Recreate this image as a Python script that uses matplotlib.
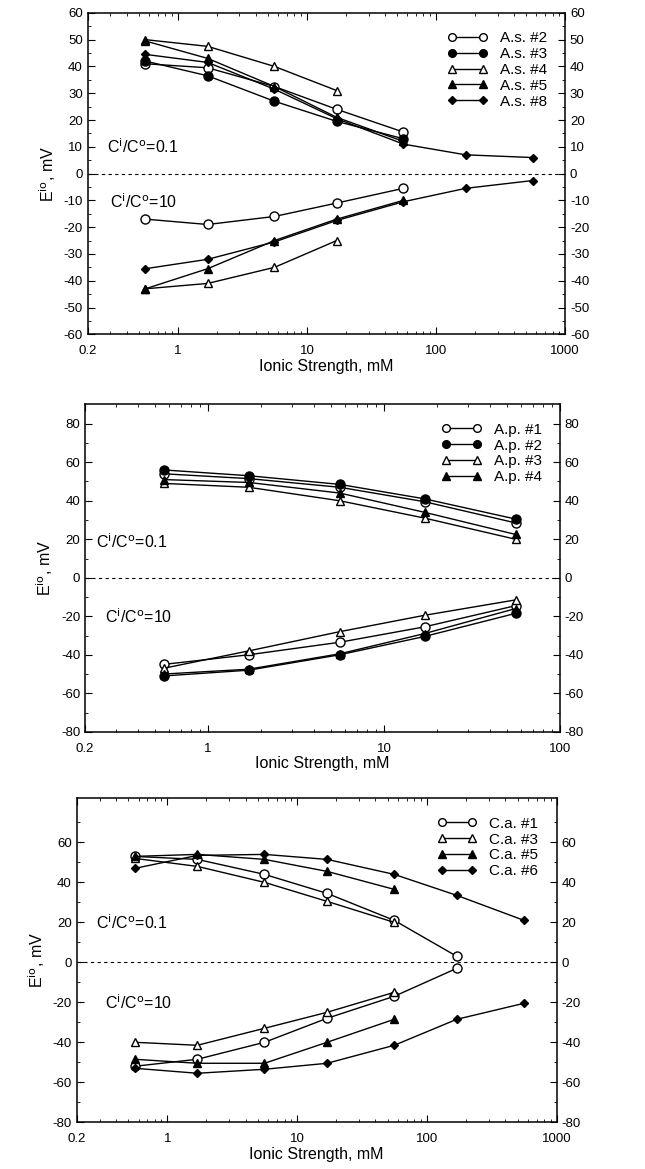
import numpy as np
import matplotlib
matplotlib.use('Agg')
import matplotlib.pyplot as plt
from matplotlib.ticker import FixedLocator, NullFormatter, LogLocator

plt.rcParams['font.family'] = ['Liberation Sans', 'DejaVu Sans']
plt.rcParams['axes.unicode_minus'] = False

# ionic strength, mM
ionic = [0.56, 1.7, 5.6, 17, 56, 170, 560]

# panel 1: A.s.
as_labels = ['A.s. #2', 'A.s. #3', 'A.s. #4', 'A.s. #5', 'A.s. #8']
as_up = [
    [41, 39.5, 32.5, 24, 15.5],
    [42, 36.5, 27, 19.5, 13],
    [50, 47.5, 40, 31],
    [49.5, 43, 32.5, 21, 12],
    [44.5, 41.5, 31.5, 20.5, 11, 7, 6],
]
as_low = [
    [-17, -19, -16, -11, -5.5],
    None,
    [-43, -41, -35, -25],
    [-43, -35.5, -25, -17, -10],
    [-35.5, -32, -25.5, -17.5, -10.5, -5.5, -2.6],
]

# panel 2: A.p.
ap_labels = ['A.p. #1', 'A.p. #2', 'A.p. #3', 'A.p. #4']
ap_up = [
    [54, 51.5, 47, 39.5, 28.5],
    [56, 53, 48.5, 41, 30.5],
    [49, 47, 40, 31, 20],
    [51, 49.5, 44, 34, 22.5],
]
ap_low = [
    [-45, -40, -33.5, -25.5, -14.5],
    [-51, -48, -40, -30.5, -18.5],
    [-47, -38, -28, -19.5, -11.5],
    [-50, -47.5, -39.5, -29, -16],
]

# panel 3: C.a.
ca_labels = ['C.a. #1', 'C.a. #3', 'C.a. #5', 'C.a. #6']
ca_up = [
    [53, 51.5, 44, 34.5, 21, 3],
    [52, 48, 40, 30.5, 20],
    [53, 54, 51.5, 45.5, 36.5],
    [47, 53.5, 54, 51.5, 44, 33.5, 21],
]
ca_low = [
    [-52, -48.5, -40, -28, -17, -3],
    [-40, -41.5, -33, -25, -15],
    [-48.5, -50.5, -50.5, -40, -28.5],
    [-53, -55.5, -53.5, -50.5, -41.5, -28.5, -20.5],
]

styles_as = [('o', 'white'), ('o', 'black'), ('^', 'white'), ('^', 'black'), ('D', 'black')]
styles_ap = [('o', 'white'), ('o', 'black'), ('^', 'white'), ('^', 'black')]
styles_ca = [('o', 'white'), ('^', 'white'), ('^', 'black'), ('D', 'black')]


def draw(ax, labels, up, low, styles, xmax, ylim, yticks, txt_up, txt_low):
    for i, lab in enumerate(labels):
        m, fc = styles[i]
        ms = {'o': 6.5, '^': 6, 'D': 4.5}[m]
        kw = dict(marker=m, mfc=fc, mec='black', ms=ms, color='black', lw=1, mew=1)
        if up[i] is not None:
            ax.plot(ionic[:len(up[i])], up[i], label=lab, **kw)
        if low[i] is not None:
            ax.plot(ionic[:len(low[i])], low[i], **kw)
    ax.axhline(0, color='black', ls=(0, (3, 3)), lw=0.8)
    ax.set_xscale('log')
    ax.set_xlim(0.2, xmax)
    ax.set_ylim(*ylim)
    xt = [0.2, 1, 10, 100, 1000]
    xt = [t for t in xt if t <= xmax]
    ax.xaxis.set_major_locator(FixedLocator(xt))
    ax.set_xticklabels([str(t) for t in xt])
    ax.xaxis.set_minor_locator(LogLocator(base=10, subs=np.arange(2, 10)))
    ax.xaxis.set_minor_formatter(NullFormatter())
    ax.set_yticks(yticks)
    ax.tick_params(which='both', direction='in', top=True, right=True,
                   labelright=True, labelsize=9.5)
    ax.tick_params(which='major', length=5)
    ax.tick_params(which='minor', length=2.5)
    ax.tick_params(axis='x', which='major', pad=8)
    ax.set_ylabel('E$^{\\rm io}$, mV', fontsize=11.5)
    ax.set_xlabel('Ionic Strength, mM', fontsize=11.5, labelpad=1)
    ax.text(txt_up[0], txt_up[1], 'C$^{\\rm i}$/C$^{\\rm o}$=0.1', fontsize=11.5, va='center')
    ax.text(txt_low[0], txt_low[1], 'C$^{\\rm i}$/C$^{\\rm o}$=10', fontsize=11.5, va='center')
    ax.legend(loc='upper right', frameon=False, numpoints=2, handlelength=2.6,
              fontsize=11, labelspacing=0.12, borderaxespad=0.8, markerscale=0.85)
    for s in ax.spines.values():
        s.set_linewidth(1.1)


fig = plt.figure(figsize=(6.45, 11.69), dpi=100)

ax1 = fig.add_axes([0.136, 0.714, 0.740, 0.275])
draw(ax1, as_labels, as_up, as_low, styles_as, 1000, (-60, 60),
     np.arange(-60, 61, 10), (0.28, 10), (0.3, -10.5))
ax1.yaxis.set_minor_locator(FixedLocator(np.arange(-55, 60, 10)))

ax2 = fig.add_axes([0.132, 0.374, 0.736, 0.280])
draw(ax2, ap_labels, ap_up, ap_low, styles_ap, 100, (-80, 90),
     np.arange(-80, 81, 20), (0.23, 19), (0.26, -20))
ax2.yaxis.set_minor_locator(FixedLocator(np.arange(-70, 90, 20)))

ax3 = fig.add_axes([0.119, 0.040, 0.744, 0.277])
draw(ax3, ca_labels, ca_up, ca_low, styles_ca, 1000, (-80, 82),
     np.arange(-80, 61, 20), (0.28, 20), (0.33, -20))
ax3.yaxis.set_minor_locator(FixedLocator(np.arange(-70, 80, 20)))

fig.savefig('out.png', dpi=100)
